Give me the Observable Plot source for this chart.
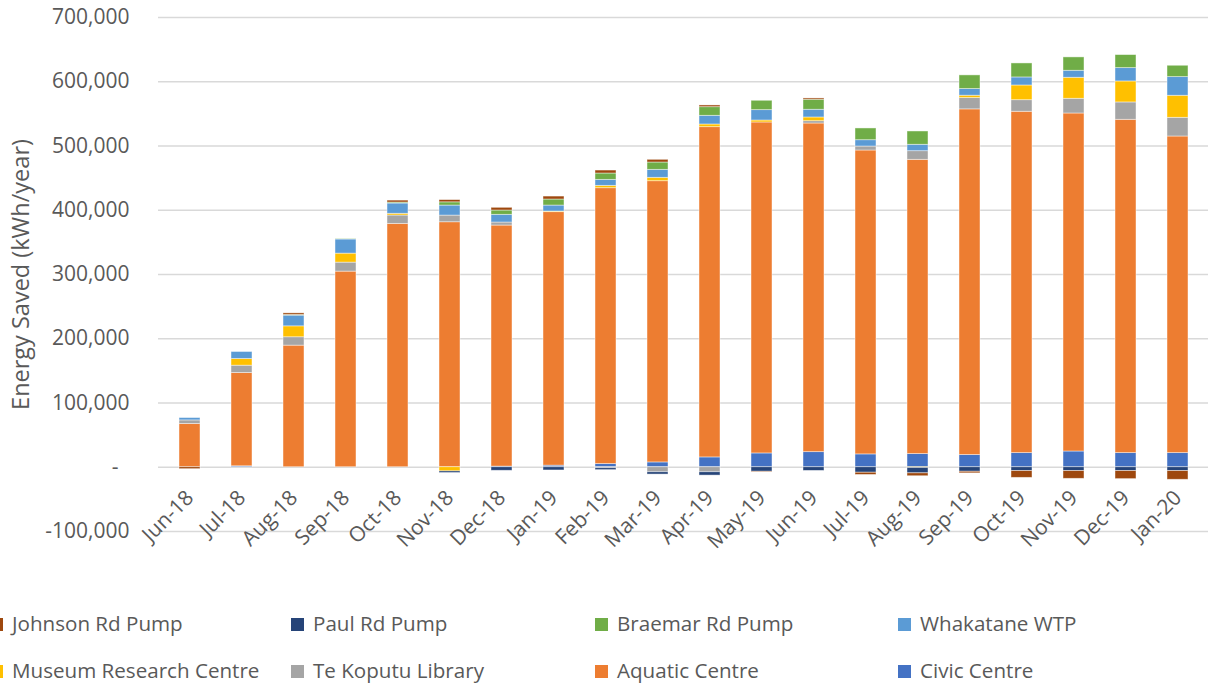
<!DOCTYPE html>
<html>
<head>
<meta charset="utf-8">
<script src="https://cdn.jsdelivr.net/npm/d3@7"></script>
<script src="https://cdn.jsdelivr.net/npm/@observablehq/plot@0.6"></script>
<style>
  html, body { margin: 0; padding: 0; background: #fff; }
  #wrap { position: relative; width: 1208px; height: 686px; overflow: hidden; font-family: "Open Sans", sans-serif; color: #595959; }
  .lg { position: absolute; font-size: 20.6px; line-height: 26px; white-space: nowrap; }
  .sw { position: absolute; width: 13px; height: 13px; }
</style>
</head>
<body>
<div id="wrap"></div>
<script>
const months = ["Jun-18","Jul-18","Aug-18","Sep-18","Oct-18","Nov-18","Dec-18","Jan-19","Feb-19","Mar-19","Apr-19","May-19","Jun-19","Jul-19","Aug-19","Sep-19","Oct-19","Nov-19","Dec-19","Jan-20"];

// Stack order (bottom to top for positive values, nearest zero first for negatives)
const seriesNames = ["Civic Centre","Aquatic Centre","Te Koputu Library","Museum Research Centre","Whakatane WTP","Braemar Rd Pump","Paul Rd Pump","Johnson Rd Pump"];
const seriesColors = ["#4472C4","#ED7D31","#A5A5A5","#FFC000","#5B9BD5","#70AD47","#264478","#9E480E"];

const civicCentre    = [0, 1500, 0, 0, 0, 0, 1000, 2500, 5000, 7500, 15300, 21500, 23500, 20000, 20500, 19000, 22000, 24500, 22000, 22000];
const aquaticCentre  = [67300, 145200, 189300, 304500, 378800, 381300, 375200, 394500, 429300, 437700, 514000, 515100, 511500, 473000, 458000, 538000, 531300, 526100, 518800, 492800];
const teKoputu       = [5600, 11400, 13000, 14000, 13000, 10400, 4700, 0, -1500, -7800, -7800, 0, 3600, 6200, 13400, 17600, 18000, 22900, 27000, 29100];
const museumResearch = [0, 10400, 17000, 14000, 2700, -6500, 0, 1000, 3700, 5300, 4200, 3100, 5800, 0, -1000, 3700, 22900, 32700, 32700, 34300];
const whakataneWTP   = [3700, 10900, 16700, 22000, 16000, 15600, 12000, 9300, 9300, 12400, 13500, 16100, 12000, 9800, 10000, 10300, 12500, 10900, 20700, 29000];
const braemarRdPump  = [0, 0, 1000, 500, 1500, 5000, 6700, 9400, 9900, 11400, 13400, 14600, 15600, 18300, 20700, 21300, 21800, 20800, 20300, 17700];
const paulRdPump     = [0, 0, 0, 0, 0, -2500, -5500, -5000, -3000, -3600, -5200, -7000, -5700, -8500, -8500, -7000, -6000, -6000, -6000, -6000];
const johnsonRdPump  = [-3000, 0, 2500, 0, 3000, 3500, 4200, 4600, 4600, 4200, 2700, -1000, 2000, -3500, -4500, -2500, -10500, -12000, -12500, -13500];

const yTicks = [-100000, 0, 100000, 200000, 300000, 400000, 500000, 600000, 700000];
const yLabel = "Energy Saved (kWh/year)";

const legendRows = [
  ["Johnson Rd Pump","Paul Rd Pump","Braemar Rd Pump","Whakatane WTP"],
  ["Museum Research Centre","Te Koputu Library","Aquatic Centre","Civic Centre"]
];

const seriesValues = [civicCentre, aquaticCentre, teKoputu, museumResearch, whakataneWTP, braemarRdPump, paulRdPump, johnsonRdPump];
const rows = [];
seriesNames.forEach((s, si) => {
  months.forEach((m, mi) => {
    const v = seriesValues[si][mi];
    if (v !== 0) rows.push({month: m, series: s, value: v});
  });
});

const fmt = d => d === 0 ? "-\u00a0\u00a0" : d.toLocaleString("en-US");

const chart = Plot.plot({
  width: 1208,
  height: 590,
  marginLeft: 158,
  marginRight: 0,
  marginTop: 17,
  marginBottom: 59,
  style: {fontFamily: "Open Sans, sans-serif", fontSize: "21px", color: "#595959", background: "#fff"},
  x: {domain: months, paddingInner: 0.6, paddingOuter: 0.3, axis: null},
  y: {domain: [-100000, 700000], axis: null},
  color: {domain: seriesNames, range: seriesColors},
  marks: [
    Plot.gridY(yTicks, {stroke: "#D9D9D9", strokeOpacity: 1, strokeWidth: 1.6}),
    Plot.axisY(yTicks, {tickFormat: fmt, tickSize: 0, tickPadding: 29, label: null, fontSize: 21, fill: "#595959"}),
    Plot.barY(rows, Plot.stackY({
      x: "month", y: "value", fill: "series", z: "series",
      order: seriesNames,
      stroke: "white", strokeWidth: 0.8, strokeOpacity: 0.55
    })),
    Plot.text(months, {
      x: d => d, y: d => 0, text: d => d,
      rotate: -45, textAnchor: "end", dy: 27, fontSize: 21, fill: "#595959"
    }),
    Plot.text([yLabel], {frameAnchor: "left", dx: -137, rotate: -90, textAnchor: "middle", fontSize: 23.5, fill: "#595959"})
  ]
});

const wrap = document.getElementById("wrap");
wrap.appendChild(chart);

const colX = [12, 313, 617, 920];
const rowY = [624, 671];
const colorOf = s => seriesColors[seriesNames.indexOf(s)];
legendRows.forEach((row, ri) => {
  row.forEach((name, ci) => {
    const sw = document.createElement("div");
    sw.className = "sw";
    sw.style.left = (colX[ci] - 22) + "px";
    sw.style.top = (rowY[ri] - 6.5) + "px";
    sw.style.background = colorOf(name);
    wrap.appendChild(sw);
    const t = document.createElement("div");
    t.className = "lg";
    t.style.left = colX[ci] + "px";
    t.style.top = (rowY[ri] - 14) + "px";
    t.textContent = name;
    wrap.appendChild(t);
  });
});
</script>
</body>
</html>
